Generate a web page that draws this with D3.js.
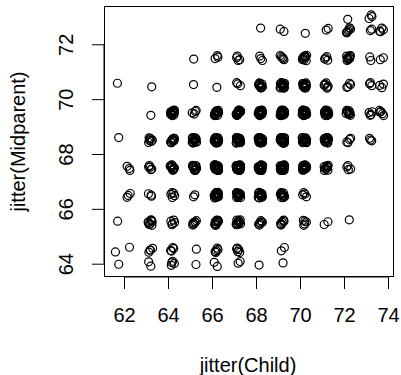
<!DOCTYPE html>
<html>
<head>
<meta charset="utf-8">
<script src="https://cdn.jsdelivr.net/npm/d3@7"></script>
<style>
  html, body { margin: 0; padding: 0; background: #fff; }
  svg { display: block; }
  text { font-family: "Liberation Sans", Arial, sans-serif; fill: #000; }
</style>
</head>
<body>
<svg id="chart" width="401" height="375"></svg>
<script>
// Galton data: counts of children per (parent midheight, child height)
const childValues = [61.7, 62.2, 63.2, 64.2, 65.2, 66.2, 67.2, 68.2, 69.2, 70.2, 71.2, 72.2, 73.2, 73.7];
const parentValues = [64, 64.5, 65.5, 66.5, 67.5, 68.5, 69.5, 70.5, 71.5, 72.5, 73];
const counts64   = [1, 0, 2, 4, 1, 2, 2, 1, 1, 0, 0, 0, 0, 0];
const counts64_5 = [1, 1, 4, 4, 1, 5, 5, 0, 2, 0, 0, 0, 0, 0];
const counts65_5 = [1, 0, 9, 5, 7, 11, 11, 7, 7, 5, 2, 1, 0, 0];
const counts66_5 = [0, 3, 3, 5, 2, 17, 17, 14, 13, 4, 0, 0, 0, 0];
const counts67_5 = [0, 3, 5, 14, 15, 36, 38, 28, 38, 19, 11, 4, 0, 0];
const counts68_5 = [1, 0, 7, 11, 16, 25, 31, 34, 48, 21, 18, 4, 3, 0];
const counts69_5 = [0, 0, 1, 16, 4, 17, 27, 20, 33, 25, 20, 11, 4, 5];
const counts70_5 = [1, 0, 1, 0, 1, 1, 3, 12, 18, 14, 7, 4, 3, 3];
const counts71_5 = [0, 0, 0, 0, 1, 3, 4, 3, 5, 10, 4, 9, 2, 2];
const counts72_5 = [0, 0, 0, 0, 0, 0, 0, 1, 2, 1, 2, 7, 2, 4];
const counts73   = [0, 0, 0, 0, 0, 0, 0, 0, 0, 0, 0, 1, 3, 0];
const countRows = [counts64, counts64_5, counts65_5, counts66_5, counts67_5, counts68_5,
                   counts69_5, counts70_5, counts71_5, counts72_5, counts73];
// hand-typed jitter offsets (jitter amount is +/-0.1 on both axes)
const jitterX = [0.06,-0.08,0.02,-0.03,0.09,-0.05,0.01,0.07,-0.1,0.04,-0.01,0.08,-0.06,0.03,-0.09,0.05,-0.02,0.1,-0.07,0,0.06,-0.04,0.02,-0.08,0.09,-0.03,0.04,-0.06,0.07,-0.01,-0.05];
const jitterY = [-0.02,0.07,-0.09,0.04,0.01,-0.06,0.09,-0.03,0.05,-0.1,0.02,0.08,-0.05,0.03,-0.07,0.1,-0.01,0.06,-0.08,0,0.05,-0.04,0.09,-0.02,0.03,-0.09,0.07,-0.06,0.01];
const xTicks = [62, 64, 66, 68, 70, 72, 74];
const yTicks = [64, 66, 68, 70, 72];
const xTitle = "jitter(Child)";
const yTitle = "jitter(Midparent)";

const points = [];
let k = 0;
parentValues.forEach((p, i) => {
  childValues.forEach((c, j) => {
    for (let n = 0; n < countRows[i][j]; n++) {
      points.push({ child: c + jitterX[k % jitterX.length], parent: p + jitterY[k % jitterY.length] });
      k++;
    }
  });
});

const svg = d3.select("#chart");
const box = { left: 104.5, right: 393.5, top: 6.5, bottom: 276.5 };
const x = d3.scaleLinear().domain([62, 74]).range([124, 388]);
const y = d3.scaleLinear().domain([64, 72]).range([263.7, 44.3]);
const fs = 20;

svg.append("g").selectAll("circle").data(points).join("circle")
  .attr("cx", d => x(d.child))
  .attr("cy", d => y(d.parent))
  .attr("r", 4)
  .attr("fill", "none")
  .attr("stroke", "#000")
  .attr("stroke-width", 1.2);

svg.append("rect")
  .attr("x", box.left).attr("y", box.top)
  .attr("width", box.right - box.left).attr("height", box.bottom - box.top)
  .attr("fill", "none").attr("stroke", "#000").attr("stroke-width", 1);

// x axis
const xAxis = d3.axisBottom(x).tickValues(xTicks).tickSize(12.5).tickPadding(20).tickFormat(d3.format("d"));
const gx = svg.append("g").attr("transform", `translate(0,${box.bottom})`).call(xAxis);
gx.select(".domain").attr("d", `M${x(62)},0.5H${x(74)}`).attr("stroke", "#000");
gx.selectAll(".tick line").attr("stroke", "#000");
gx.selectAll(".tick text").attr("font-size", fs).attr("font-family", "Liberation Sans, Arial, sans-serif")
  .attr("y", null).attr("dy", null).attr("transform", null)
  .attr("y", 322 - box.bottom);

// y axis
const yAxis = d3.axisLeft(y).tickValues(yTicks).tickSize(12.5).tickFormat(d3.format("d"));
const gy = svg.append("g").attr("transform", `translate(${box.left},0)`).call(yAxis);
gy.select(".domain").attr("d", `M-0.5,${y(64)}V${y(72)}`).attr("stroke", "#000");
gy.selectAll(".tick line").attr("stroke", "#000");
gy.selectAll(".tick text").attr("font-size", fs).attr("font-family", "Liberation Sans, Arial, sans-serif")
  .attr("x", null).attr("dy", null).attr("text-anchor", "middle")
  .attr("transform", `translate(${73.3 - box.left},0) rotate(-90)`);

svg.append("text").attr("x", 248).attr("y", 371.5).attr("text-anchor", "middle")
  .attr("font-size", fs).text(xTitle);
svg.append("text").attr("transform", `translate(24.5,${(box.top + box.bottom) / 2}) rotate(-90)`)
  .attr("text-anchor", "middle").attr("font-size", fs).text(yTitle);
</script>
</body>
</html>
